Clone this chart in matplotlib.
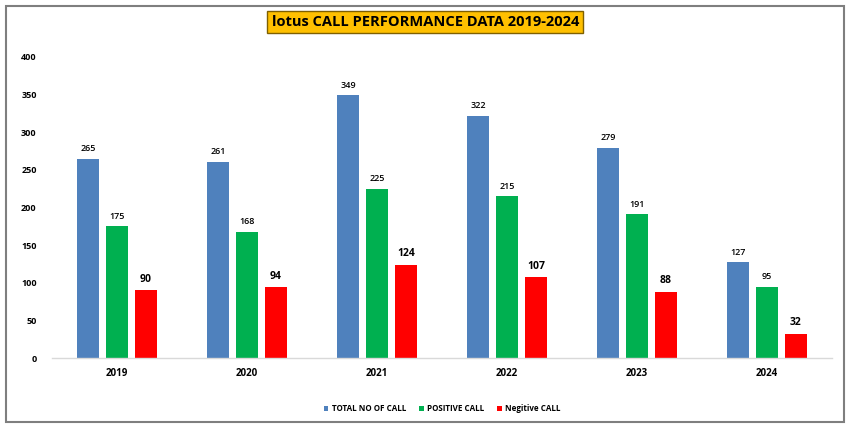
import numpy as np
import matplotlib.pyplot as plt
from matplotlib.patches import Rectangle

plt.rcParams['font.family'] = ['Open Sans', 'DejaVu Sans']

# Data
years = ['2019', '2020', '2021', '2022', '2023', '2024']
total_calls = [265, 261, 349, 322, 279, 127]
positive_calls = [175, 168, 225, 215, 191, 95]
negative_calls = [90, 94, 124, 107, 88, 32]
series_names = ['TOTAL NO OF CALL', 'POSITIVE CALL', 'Negitive CALL']
y_ticks = [0, 50, 100, 150, 200, 250, 300, 350, 400]

colors = ['#4F81BD', '#00B050', '#FF0000']

fig = plt.figure(figsize=(8.47, 4.28), dpi=100)
ax = fig.add_axes([52 / 847, 1 - 358 / 428, 780 / 847, 301 / 428])

x = np.arange(len(years))
w = 0.17
off = 0.223

bars_total = ax.bar(x - off, total_calls, w, color=colors[0], label=series_names[0])
bars_pos = ax.bar(x, positive_calls, w, color=colors[1], label=series_names[1])
bars_neg = ax.bar(x + off, negative_calls, w, color=colors[2], label=series_names[2])

# value labels
for bars, size, weight in [(bars_total, 6.5, 'semibold'), (bars_pos, 6.5, 'semibold'),
                           (bars_neg, 7.5, 'bold')]:
    for b in bars:
        ax.annotate(str(int(b.get_height())), (b.get_x() + b.get_width() / 2, b.get_height()),
                    xytext=(0, 4), textcoords='offset points', ha='center', va='bottom',
                    fontsize=size, fontweight=weight, color='black')

ax.set_xlim(-0.5, len(years) - 0.5)
ax.set_ylim(0, 400)
ax.set_yticks(y_ticks)
ax.set_xticks(x)
ax.set_xticklabels(years, fontsize=7, fontweight='bold')
ax.tick_params(axis='y', labelsize=6.5, length=0, pad=11)
ax.tick_params(axis='x', length=0, pad=7)
for t in ax.get_yticklabels():
    t.set_fontweight('bold')
for s in ['top', 'right', 'left']:
    ax.spines[s].set_visible(False)
ax.spines['bottom'].set_color('#D9D9D9')
ax.spines['bottom'].set_linewidth(1)

# title box
fig.text(0.502, 1 - 22 / 428, 'lotus CALL PERFORMANCE DATA 2019-2024', ha='center', va='center',
         fontsize=10.5, fontweight='bold', color='black',
         bbox=dict(boxstyle='square,pad=0.3', facecolor='#FFC000', edgecolor='#7F6000', linewidth=1))

# legend
ax.legend(loc='center', bbox_to_anchor=(0.5, -0.168), ncol=3, frameon=False,
          prop={'size': 5.8, 'weight': 'bold'},
          handlelength=0.6, handleheight=0.6, handletextpad=0.4, columnspacing=1.6)

# outer border
fig.patches.append(Rectangle((6 / 847, 1 - 422 / 428), 838 / 847, 416 / 428,
                             transform=fig.transFigure, fill=False, edgecolor='#7F7F7F',
                             linewidth=1.5))

fig.savefig('out.png', dpi=100)
